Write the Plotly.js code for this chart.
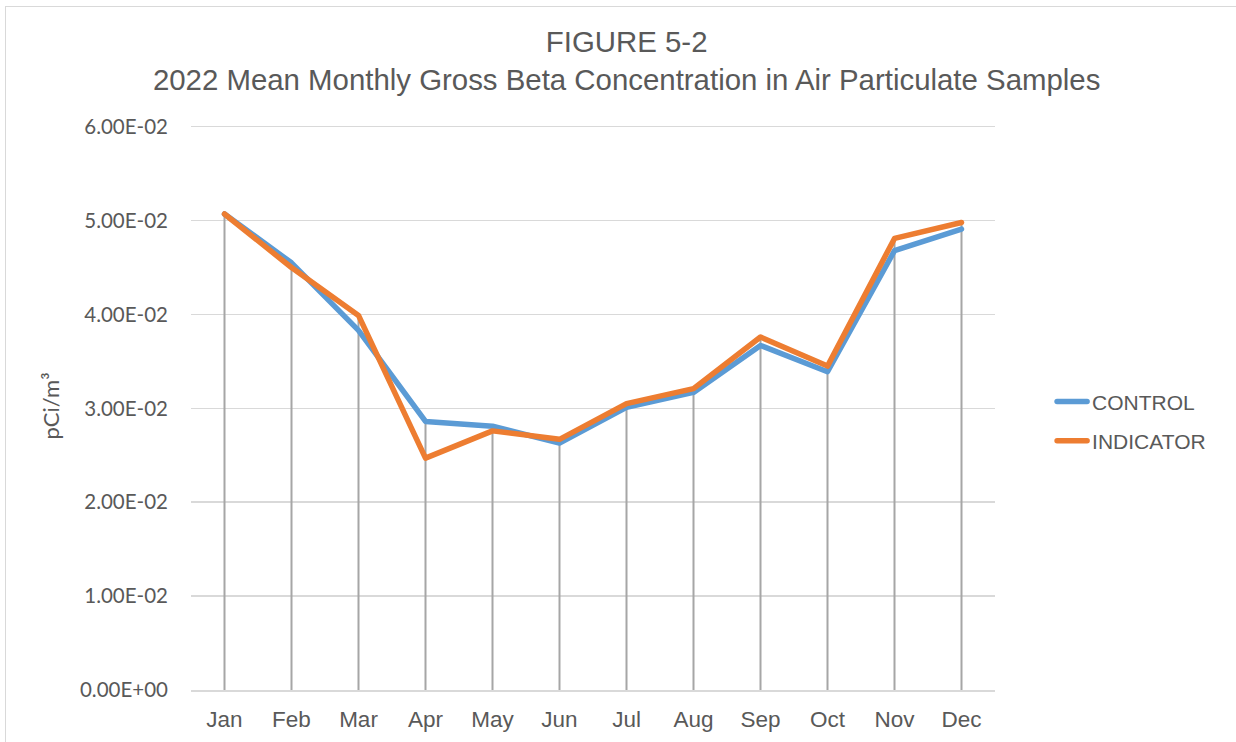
<!DOCTYPE html>
<html>
<head>
<meta charset="utf-8">
<script src="https://cdn.plot.ly/plotly-3.0.1.min.js"></script>
<style>
html, body { margin: 0; padding: 0; background: #fff; overflow: hidden; }
#wrap { position: relative; width: 1236px; height: 742px; }
#chart { width: 1236px; height: 742px; }
#frame { position: absolute; left: 5px; top: 6px; width: 1240px; height: 750px; border: 1.5px solid #d9d9d9; pointer-events: none; box-sizing: border-box; }
.scatterlayer path.js-line, .legend path.js-line { stroke-linejoin: round; stroke-linecap: round; }
</style>
</head>
<body>
<div id="wrap">
<div id="chart"></div>
<div id="frame"></div>
</div>
<script>
const months = ["Jan","Feb","Mar","Apr","May","Jun","Jul","Aug","Sep","Oct","Nov","Dec"];
const control = [0.0507, 0.0455, 0.0383, 0.0286, 0.0281, 0.0263, 0.0301, 0.0317, 0.0367, 0.0339, 0.0468, 0.0491];
const indicator = [0.0507, 0.0450, 0.0399, 0.0247, 0.0276, 0.0267, 0.0305, 0.0321, 0.0376, 0.0345, 0.0481, 0.0498];
const yTicks = [0, 0.01, 0.02, 0.03, 0.04, 0.05, 0.06];
const seriesNames = ["CONTROL", "INDICATOR"];
const titleLines = ["FIGURE 5-2", "2022 Mean Monthly Gross Beta Concentration in Air Particulate Samples"];
const yTitle = "pCi/m³";

function fmtE(v) {
  const s = v.toExponential(2);
  const parts = s.split("e");
  const sign = parts[1][0] === "-" ? "-" : "+";
  const exp = parts[1].replace(/[+-]/, "").padStart(2, "0");
  return parts[0] + "E" + sign + exp;
}

const dropTop = months.map((m, i) => Math.max(control[i], indicator[i]));

const textColor = "#595959";

const traces = [
  {
    x: months, y: dropTop, type: "scatter", mode: "markers",
    marker: { size: 1, opacity: 0 }, showlegend: false, hoverinfo: "skip",
    error_y: { type: "data", symmetric: false, array: months.map(() => 0), arrayminus: dropTop, color: "#a6a6a6", thickness: 2, width: 0 }
  },
  {
    x: months, y: control, type: "scatter", mode: "lines", name: seriesNames[0], legendgroup: "g1",
    line: { color: "#5b9bd5", width: 5.5 }
  },
  {
    x: months, y: indicator, type: "scatter", mode: "lines", name: seriesNames[1], legendgroup: "g2",
    line: { color: "#ed7d31", width: 5.5 }
  }
];

const layout = {
  width: 1236, height: 742,
  paper_bgcolor: "#ffffff", plot_bgcolor: "#ffffff",
  margin: { l: 191, r: 241, t: 122, b: 52 },
  font: { family: "Liberation Sans, Arial, sans-serif", color: textColor },
  title: {
    text: titleLines.join("<br>"),
    font: { family: "Liberation Sans, Arial, sans-serif", size: 29.4, color: textColor },
    x: 0.507, xanchor: "center", y: 0.93, yanchor: "middle", yref: "container"
  },
  xaxis: {
    type: "category", range: [-0.5, 11.5],
    showgrid: false, showline: true, linecolor: "#d9d9d9", linewidth: 1.5,
    ticks: "", ticklabelstandoff: 8,
    tickfont: { family: "Liberation Sans, Arial, sans-serif", size: 22.5, color: textColor },
    fixedrange: true
  },
  yaxis: {
    range: [0, 0.0605], tickvals: yTicks, ticktext: yTicks.map(fmtE),
    showgrid: true, gridcolor: "#d9d9d9", gridwidth: 1.5, zeroline: false, showline: false,
    ticks: "", ticklabelstandoff: 22,
    tickfont: { family: "Lato, sans-serif", size: 20.5, color: textColor },
    title: { text: yTitle, font: { family: "Lato, sans-serif", size: 22, color: textColor }, standoff: 14 },
    fixedrange: true
  },
  legend: {
    x: 1.071, xanchor: "left", y: 0.473, yanchor: "middle",
    font: { family: "Liberation Sans, Arial, sans-serif", size: 21, color: textColor },
    traceorder: "grouped", tracegroupgap: 9, itemwidth: 30, bgcolor: "rgba(0,0,0,0)"
  },
  showlegend: true
};

Plotly.newPlot("chart", traces, layout, { displayModeBar: false, staticPlot: true });
</script>
</body>
</html>
